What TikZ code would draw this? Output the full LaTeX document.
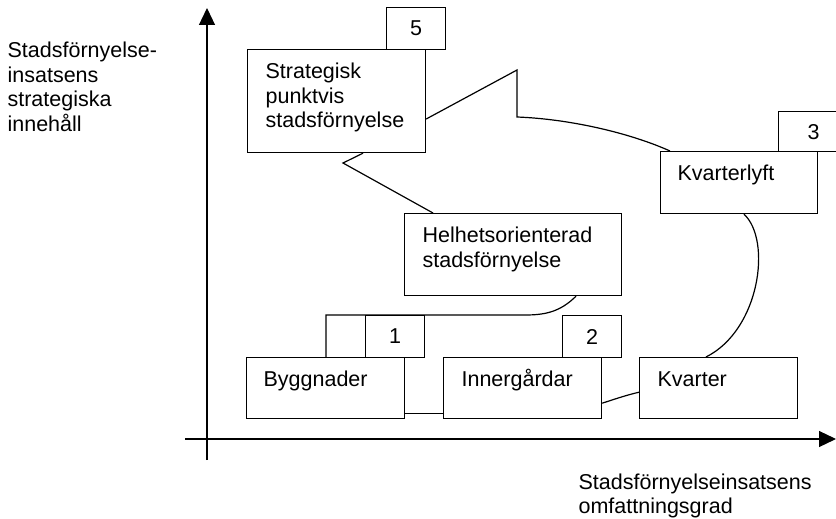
\documentclass[tikz,border=0pt]{standalone}
\usepackage{fontspec}
\setmainfont{Liberation Sans}
\usetikzlibrary{arrows.meta}
\newcommand{\mylines}[1]{\begin{tabular}[t]{@{}l@{}}#1\end{tabular}}
\begin{document}
\begin{tikzpicture}[x=1pt,y=-1pt, line width=1.2pt,
  font=\fontsize{21.5}{24.5}\selectfont,
  box/.style={draw, rectangle, anchor=north west, inner sep=0pt},
  numbox/.style={draw, rectangle, anchor=north west, inner sep=0pt, minimum width=59pt, minimum height=42pt},
  lbl/.style={anchor=base west, inner sep=0pt},
  conn/.style={draw, line width=1.2pt},
  axis/.style={draw, line width=1.2pt, -{Triangle[length=17pt,width=16pt]}}]
\useasboundingbox (0,0) rectangle (836,519);

% axes
\coordinate (yo) at (207,460);
\coordinate (ytop) at (207,8);
\coordinate (xo) at (185,439);
\coordinate (xend) at (836,439);
\draw[axis] (yo) -- (ytop);
\draw[axis] (xo) -- (xend);

% axis labels
\node[lbl] (ylab) at (7,58) {\mylines{Stadsförnyelse-\\insatsens\\strategiska\\innehåll}};
\node[lbl] (xlab) at (578,489) {\mylines{Stadsförnyelseinsatsens\\omfattningsgrad}};

% number boxes
\node[numbox] (b5) at (386,7) {\raisebox{-2pt}{5}};
\node[numbox, minimum width=70pt, minimum height=40pt] (b3) at (778,111) {\makebox[58pt]{3}\hspace{12pt}};
\node[numbox] (b1) at (365,315) {1};
\node[numbox] (b2) at (562,315) {2};

% main boxes
\node[box, minimum width=178pt, minimum height=103pt] (strat) at (247,49) {};
\node[box, minimum width=157pt, minimum height=62pt] (lyft) at (660,151) {};
\node[box, minimum width=217pt, minimum height=82pt] (hel) at (404,213) {};
\node[box, minimum width=158pt, minimum height=61pt] (byg) at (246,357) {};
\node[box, minimum width=158pt, minimum height=61pt] (inn) at (443,357) {};
\node[box, minimum width=158pt, minimum height=61pt] (kv) at (639,357) {};

% box texts
\node[lbl] (tstrat) at (265,79) {\mylines{Strategisk\\punktvis\\stadsförnyelse}};
\node[lbl] (tlyft) at (677,180) {Kvarterlyft};
\node[lbl] (thel) at (422,242) {\fontsize{21.5}{25}\selectfont\mylines{Helhetsorienterad\\stadsförnyelse}};
\node[lbl] (tbyg) at (263,386) {Byggnader};
\node[lbl] (tinn) at (461,386) {Innergårdar};
\node[lbl] (tkv) at (657,386) {Kvarter};

% helper points
\coordinate (a1) at (517,117);
\coordinate (a2) at (517,70);
\coordinate (a3) at (343,163);
\coordinate (h1) at (525,315);
\coordinate (h2) at (326,315);

% connectors
\draw[conn] ([yshift=6pt]byg.south east) -- ([yshift=6pt]inn.south west);
\draw[conn] ([yshift=16pt]inn.south east) .. controls (615,399) and (627,395) .. ([yshift=27pt]kv.south west);
\draw[conn] (kv.north -| 706,0) .. controls (760,330) and (772,240) .. (lyft.south -| 744,0);
\draw[conn] (lyft.north -| 670,0) .. controls (630,133) and (570,119) .. (a1) -- (a2) -- (strat.east |- 0,119);
\draw[conn] (strat.south -| 363,0) -- (a3) -- (hel.north -| 433,0);
\draw[conn] (hel.south -| 576,0) .. controls (560,312) and (545,315) .. (h1) -- (h2) -- (byg.north -| 326,0);
\end{tikzpicture}
\end{document}
